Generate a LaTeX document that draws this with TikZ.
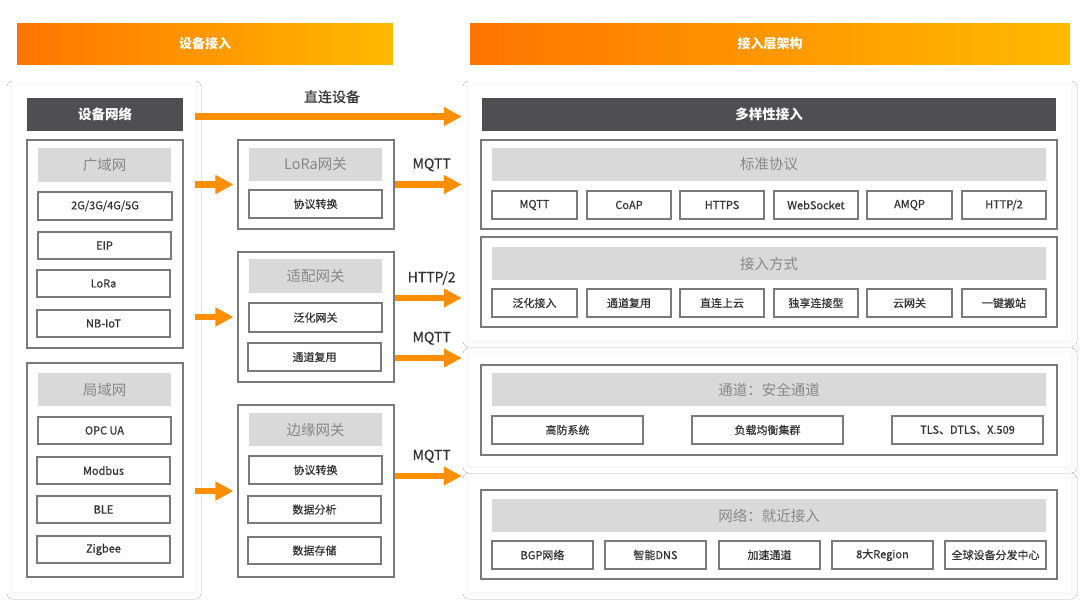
\documentclass[tikz,border=0pt]{standalone}
\usepackage{fontspec}
\setmainfont{Noto Sans CJK SC}
\newfontfamily\medfont[FakeBold=0.6]{Noto Sans CJK SC}
\usetikzlibrary{arrows.meta,calc,shadows.blur}
\definecolor{orA}{HTML}{FF7400}
\definecolor{orB}{HTML}{FFBA00}
\definecolor{arrC}{HTML}{FF8F00}
\definecolor{darkC}{HTML}{4F4F51}
\definecolor{ttlC}{HTML}{D9D9D9}
\definecolor{ttlT}{HTML}{888888}
\definecolor{lineC}{HTML}{7A7A7A}
\definecolor{txtC}{HTML}{333333}
\newcommand\mybox[7]{%
  \pgfmathsetmacro\mbw{#5-#3}%
  \pgfmathsetmacro\mbh{#6-#4}%
  \node[#2, minimum width=\mbw pt, minimum height=\mbh pt, inner sep=0pt] (#1) at ({(#3+#5)/2},{(#4+#6)/2}) {#7};}
\tikzset{
  hdr/.style={shading=axis, left color=orA, right color=orB, shading angle=90, text=white, font=\fontsize{13}{15}\selectfont\bfseries},
  darkbar/.style={fill=darkC, text=white, font=\fontsize{13.5}{15}\selectfont\bfseries},
  pnl/.style={fill=white, blur shadow={shadow xshift=0pt, shadow yshift=-1pt, shadow blur radius=6pt, shadow opacity=6}},
  grp/.style={draw=lineC, line width=1.1pt},
  ttl/.style={fill=ttlC, text=ttlT, font=\fontsize{14.5}{16}\selectfont},
  itm/.style={draw=lineC, line width=1.1pt, fill=white, text=txtC, font=\medfont\fontsize{11}{12}\selectfont},
  arr/.style={draw=arrC, line width=6.5pt, -{Triangle[length=18pt,width=18pt]}},
  lbl/.style={text=txtC, font=\medfont\fontsize{14}{15}\selectfont, inner sep=0pt}
}
\begin{document}
\begin{tikzpicture}[x=1pt,y=-1pt]
\useasboundingbox (0,0) rectangle (1080,611);
\fill[white] (0,0) rectangle (1080,611);
% headers
\mybox{hL}{hdr}{17}{23}{393}{64}{设备接入}
\mybox{hR}{hdr}{470}{23}{1070}{64}{接入层架构}
% panels
\mybox{lp}{pnl}{13}{86}{195}{592}{}
\mybox{rp1}{pnl}{469}{86}{1071}{340}{}
\mybox{rp2}{pnl}{469}{353}{1071}{466}{}
\mybox{rp3}{pnl}{469}{478}{1071}{592}{}
% left column
\mybox{devnet}{darkbar}{27}{98}{183}{131}{设备网络}
\mybox{wan}{grp}{27}{140}{183}{348}{}
\mybox{wanT}{ttl}{38}{148}{171}{182}{广域网}
\mybox{w1}{itm}{38}{192}{172}{220}{2G/3G/4G/5G}
\mybox{w2}{itm}{38}{232}{171}{259}{EIP}
\mybox{w3}{itm}{37}{270}{170}{297}{LoRa}
\mybox{w4}{itm}{37}{310}{170}{337}{NB-IoT}
\mybox{lan}{grp}{27}{363}{183}{577}{}
\mybox{lanT}{ttl}{38}{373}{171}{406}{局域网}
\mybox{l1}{itm}{38}{417}{171}{444}{OPC UA}
\mybox{l2}{itm}{37}{457}{170}{484}{Modbus}
\mybox{l3}{itm}{37}{496}{170}{523}{BLE}
\mybox{l4}{itm}{37}{536}{170}{563}{Zigbee}
% middle column
\mybox{gw1}{grp}{238}{140}{394}{229}{}
\mybox{gw1T}{ttl}{249}{148}{382}{181}{LoRa网关}
\mybox{g11}{itm}{249}{190}{382}{218}{协议转换}
\mybox{gw2}{grp}{238}{252}{394}{382}{}
\mybox{gw2T}{ttl}{249}{259}{382}{293}{适配网关}
\mybox{g21}{itm}{249}{303}{382}{332}{泛化网关}
\mybox{g22}{itm}{248}{343}{381}{371}{通道复用}
\mybox{gw3}{grp}{238}{405}{394}{577}{}
\mybox{gw3T}{ttl}{249}{413}{382}{446}{边缘网关}
\mybox{g31}{itm}{249}{456}{382}{484}{协议转换}
\mybox{g32}{itm}{248}{496}{381}{523}{数据分析}
\mybox{g33}{itm}{248}{537}{381}{564}{数据存储}
% right column: panel 1
\mybox{multi}{darkbar}{482}{98}{1056}{131}{多样性接入}
\mybox{std}{grp}{481}{140}{1057}{229}{}
\mybox{stdT}{ttl}{492}{148}{1046}{181}{标准协议}
\mybox{s1}{itm}{492}{191}{577}{219}{MQTT}
\mybox{s2}{itm}{587}{191}{671}{219}{CoAP}
\mybox{s3}{itm}{680}{191}{764}{219}{HTTPS}
\mybox{s4}{itm}{774}{191}{858}{219}{WebSocket}
\mybox{s5}{itm}{867}{191}{952}{219}{AMQP}
\mybox{s6}{itm}{962}{191}{1046}{219}{HTTP/2}
\mybox{acc}{grp}{481}{237}{1057}{327}{}
\mybox{accT}{ttl}{492}{247}{1046}{280}{接入方式}
\mybox{a1}{itm}{492}{289}{577}{317}{泛化接入}
\mybox{a2}{itm}{587}{289}{671}{317}{通道复用}
\mybox{a3}{itm}{680}{289}{764}{317}{直连上云}
\mybox{a4}{itm}{774}{289}{858}{317}{独享连接型}
\mybox{a5}{itm}{867}{289}{952}{317}{云网关}
\mybox{a6}{itm}{962}{289}{1046}{317}{一键搬站}
% panel 2
\mybox{sec}{grp}{481}{365}{1057}{455}{}
\mybox{secT}{ttl}{492}{373}{1046}{406}{通道：安全通道}
\mybox{c1}{itm}{492}{416}{643}{444}{高防系统}
\mybox{c2}{itm}{692}{416}{843}{444}{负载均衡集群}
\mybox{c3}{itm}{892}{416}{1043}{444}{TLS、DTLS、X.509}
% panel 3
\mybox{net}{grp}{481}{490}{1057}{579}{}
\mybox{netT}{ttl}{492}{499}{1046}{532}{网络：就近接入}
\mybox{n1}{itm}{492}{541}{593}{569}{BGP网络}
\mybox{n2}{itm}{605}{541}{706}{569}{智能DNS}
\mybox{n3}{itm}{719}{541}{820}{569}{加速通道}
\mybox{n4}{itm}{832}{541}{933}{569}{8大Region}
\mybox{n5}{itm}{945}{541}{1046}{569}{全球设备分发中心}
% arrows
\draw[arr, shorten >=7pt] ([yshift=-2pt]lp.east |- devnet.east) -- ([yshift=-2pt]rp1.west |- devnet.east)
  node[lbl, midway, above=10pt] {直连设备};
\draw[arr, shorten >=4pt] (lp.east |- gw1.west) -- (gw1.west);
\draw[arr, shorten >=4pt] (lp.east |- gw2.west) -- (gw2.west);
\draw[arr, shorten >=4pt] (lp.east |- gw3.west) -- (gw3.west);
\draw[arr, shorten >=7pt] (gw1.east) -- (rp1.west |- gw1.east)
  node[lbl, midway, above=10pt] {MQTT};
\draw[arr, shorten >=7pt] ([yshift=19pt]gw2.east) -- ([yshift=19pt]gw2.east -| rp1.west)
  node[lbl, midway, above=10pt] {HTTP/2};
\draw[arr, shorten >=7pt] ([yshift=-41pt]gw2.east) -- ([yshift=-41pt]gw2.east -| rp2.west)
  node[lbl, midway, above=10pt] {MQTT};
\draw[arr, shorten >=7pt] ([yshift=15pt]gw3.east) -- ([yshift=15pt]gw3.east -| rp3.west)
  node[lbl, midway, above=10pt] {MQTT};
\end{tikzpicture}
\end{document}
